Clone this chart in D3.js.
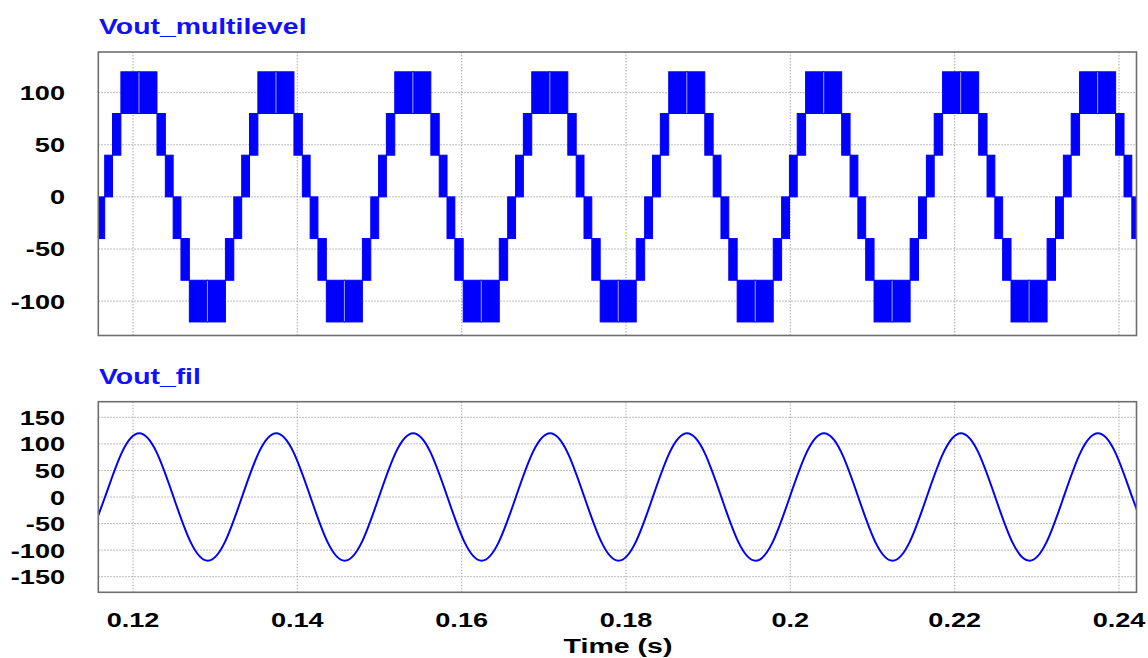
<!DOCTYPE html>
<html><head><meta charset="utf-8">
<script src="https://cdn.jsdelivr.net/npm/d3@7"></script>
<style>
body{margin:0;background:#fff}
svg{display:block}
text{font-family:"Liberation Sans",Arial,sans-serif;font-weight:bold}
</style>
</head><body>
<svg id="c" width="1148" height="658"></svg>
<script>
// ---------- data ----------
const timeTicks = [0.12, 0.14, 0.16, 0.18, 0.2, 0.22, 0.24];
const timeTickLabels = ["0.12", "0.14", "0.16", "0.18", "0.2", "0.22", "0.24"];
const timeDomain = [0.11578, 0.24213];

const topTitle = "Vout_multilevel";
const topTicks = [100, 50, 0, -50, -100];
const topDomain = [-133, 139];

const botTitle = "Vout_fil";
const botTicks = [150, 100, 50, 0, -50, -100, -150];
const botDomain = [-179.4, 179.4];

const xLabel = "Time (s)";

// Vout_multilevel: rising zero crossings of each cycle (s)
const mlCycleStarts = [0.09989, 0.11656, 0.13323, 0.14989, 0.16656, 0.18323, 0.19989, 0.21656, 0.23323];
// switching bands inside one cycle (offset from the cycle start, s) and their levels (V)
const mlSegStart = [0, 0.00095, 0.00197, 0.00417, 0.00636, 0.00738, 0.00833, 0.00928, 0.0103, 0.0125, 0.01469, 0.01571];
const mlSegEnd   = [0.00095, 0.00197, 0.00417, 0.00636, 0.00738, 0.00833, 0.00928, 0.0103, 0.0125, 0.01469, 0.01571, 0.01667];
const mlSegLow   = [0, 40, 80, 80, 40, 0, -40, -80, -120, -120, -80, -40];
const mlSegHigh  = [40, 80, 120, 120, 80, 40, 0, -40, -80, -80, -40, 0];

// Vout_fil: samples every filStep seconds starting at filStart
const filStart = 0.114517;
const filStep = 0.00208333;
const filV = [-85,
  0, 85, 120, 85, 0, -85, -120, -85,
  0, 85, 120, 85, 0, -85, -120, -85,
  0, 85, 120, 85, 0, -85, -120, -85,
  0, 85, 120, 85, 0, -85, -120, -85,
  0, 85, 120, 85, 0, -85, -120, -85,
  0, 85, 120, 85, 0, -85, -120, -85,
  0, 85, 120, 85, 0, -85, -120, -85,
  0, 85, 120, 85, 0, -85];

// ---------- layout ----------
const L = 98.3, R = 1136.5;
const topBox = {y0: 52, y1: 335.5};
const botBox = {y0: 401.7, y1: 592.3};
const BLUE = "#0000ff";
const SX = 1.29;

const svg = d3.select("#c");
const x = d3.scaleLinear().domain(timeDomain).range([L, R]);
const yTop = d3.scaleLinear().domain(topDomain).range([topBox.y1, topBox.y0]);
const yBot = d3.scaleLinear().domain(botDomain).range([botBox.y1, botBox.y0]);

const defs = svg.append("defs");
function clip(id, box) {
  defs.append("clipPath").attr("id", id).append("rect")
    .attr("x", L).attr("y", box.y0).attr("width", R - L).attr("height", box.y1 - box.y0);
}
clip("clipTop", topBox);
clip("clipBot", botBox);

function panel(box, y, ticks, title) {
  const g = svg.append("g");
  // grid
  g.append("g").selectAll("line").data(ticks).join("line")
    .attr("x1", L).attr("x2", R).attr("y1", d => y(d)).attr("y2", d => y(d))
    .attr("stroke", "#a8a8a8").attr("stroke-width", 1).attr("stroke-dasharray", "1.5,1.5");
  g.append("g").selectAll("line").data(timeTicks).join("line")
    .attr("y1", box.y0).attr("y2", box.y1).attr("x1", d => x(d)).attr("x2", d => x(d))
    .attr("stroke", "#a8a8a8").attr("stroke-width", 1).attr("stroke-dasharray", "1.5,1.5");
  // y tick labels
  g.append("g").selectAll("text").data(ticks).join("text")
    .attr("transform", d => `translate(65,${y(d) + 7.5}) scale(${SX},1)`)
    .attr("text-anchor", "end").attr("font-size", 21).attr("fill", "#000")
    .text(d => d);
  // title
  svg.append("text").attr("transform", `translate(99,${box.y0 - 18}) scale(${SX},1)`)
    .attr("font-size", 22).attr("fill", "#1010ff").text(title);
  return g;
}

const gTop = panel(topBox, yTop, topTicks, topTitle);
const gBot = panel(botBox, yBot, botTicks, botTitle);

// multilevel blocks
const blocks = [];
const seams = [];
mlCycleStarts.forEach(c => {
  mlSegStart.forEach((s, i) => {
    blocks.push({t0: c + s, t1: c + mlSegEnd[i], lo: mlSegLow[i], hi: mlSegHigh[i]});
    if (i > 0 && mlSegLow[i] === mlSegLow[i - 1]) seams.push({t: c + s, lo: mlSegLow[i], hi: mlSegHigh[i]});
  });
});
const gML = gTop.append("g").attr("clip-path", "url(#clipTop)");
gML.selectAll("rect").data(blocks).join("rect")
  .attr("x", d => x(d.t0)).attr("width", d => x(d.t1) - x(d.t0))
  .attr("y", d => yTop(d.hi)).attr("height", d => yTop(d.lo) - yTop(d.hi))
  .attr("fill", BLUE).attr("stroke", BLUE).attr("stroke-width", 1);
gML.append("g").selectAll("line").data(seams).join("line")
  .attr("x1", d => x(d.t)).attr("x2", d => x(d.t))
  .attr("y1", d => yTop(d.hi) + 0.5).attr("y2", d => yTop(d.lo) - 0.5)
  .attr("stroke", "#a0a0ff").attr("stroke-width", 1);

// filtered sine
const filData = filV.map((v, i) => ({t: filStart + i * filStep, v}));
gBot.append("path").attr("clip-path", "url(#clipBot)")
  .datum(filData)
  .attr("d", d3.line().x(d => x(d.t)).y(d => yBot(d.v)).curve(d3.curveNatural))
  .attr("fill", "none").attr("stroke", BLUE).attr("stroke-width", 2);

// frames
[topBox, botBox].forEach(b => {
  svg.append("rect").attr("x", L).attr("y", b.y0).attr("width", R - L).attr("height", b.y1 - b.y0)
    .attr("fill", "none").attr("stroke", "#6e6e6e").attr("stroke-width", 1.6);
});

// x tick labels
svg.append("g").selectAll("text").data(timeTicks).join("text")
  .attr("transform", d => `translate(${x(d)},627) scale(${SX},1)`)
  .attr("text-anchor", "middle").attr("font-size", 21).attr("fill", "#000")
  .text((d, i) => timeTickLabels[i]);

svg.append("text").attr("transform", `translate(618,653) scale(1.36,1)`)
  .attr("text-anchor", "middle").attr("font-size", 21).attr("fill", "#000").text(xLabel);
</script>
</body></html>
